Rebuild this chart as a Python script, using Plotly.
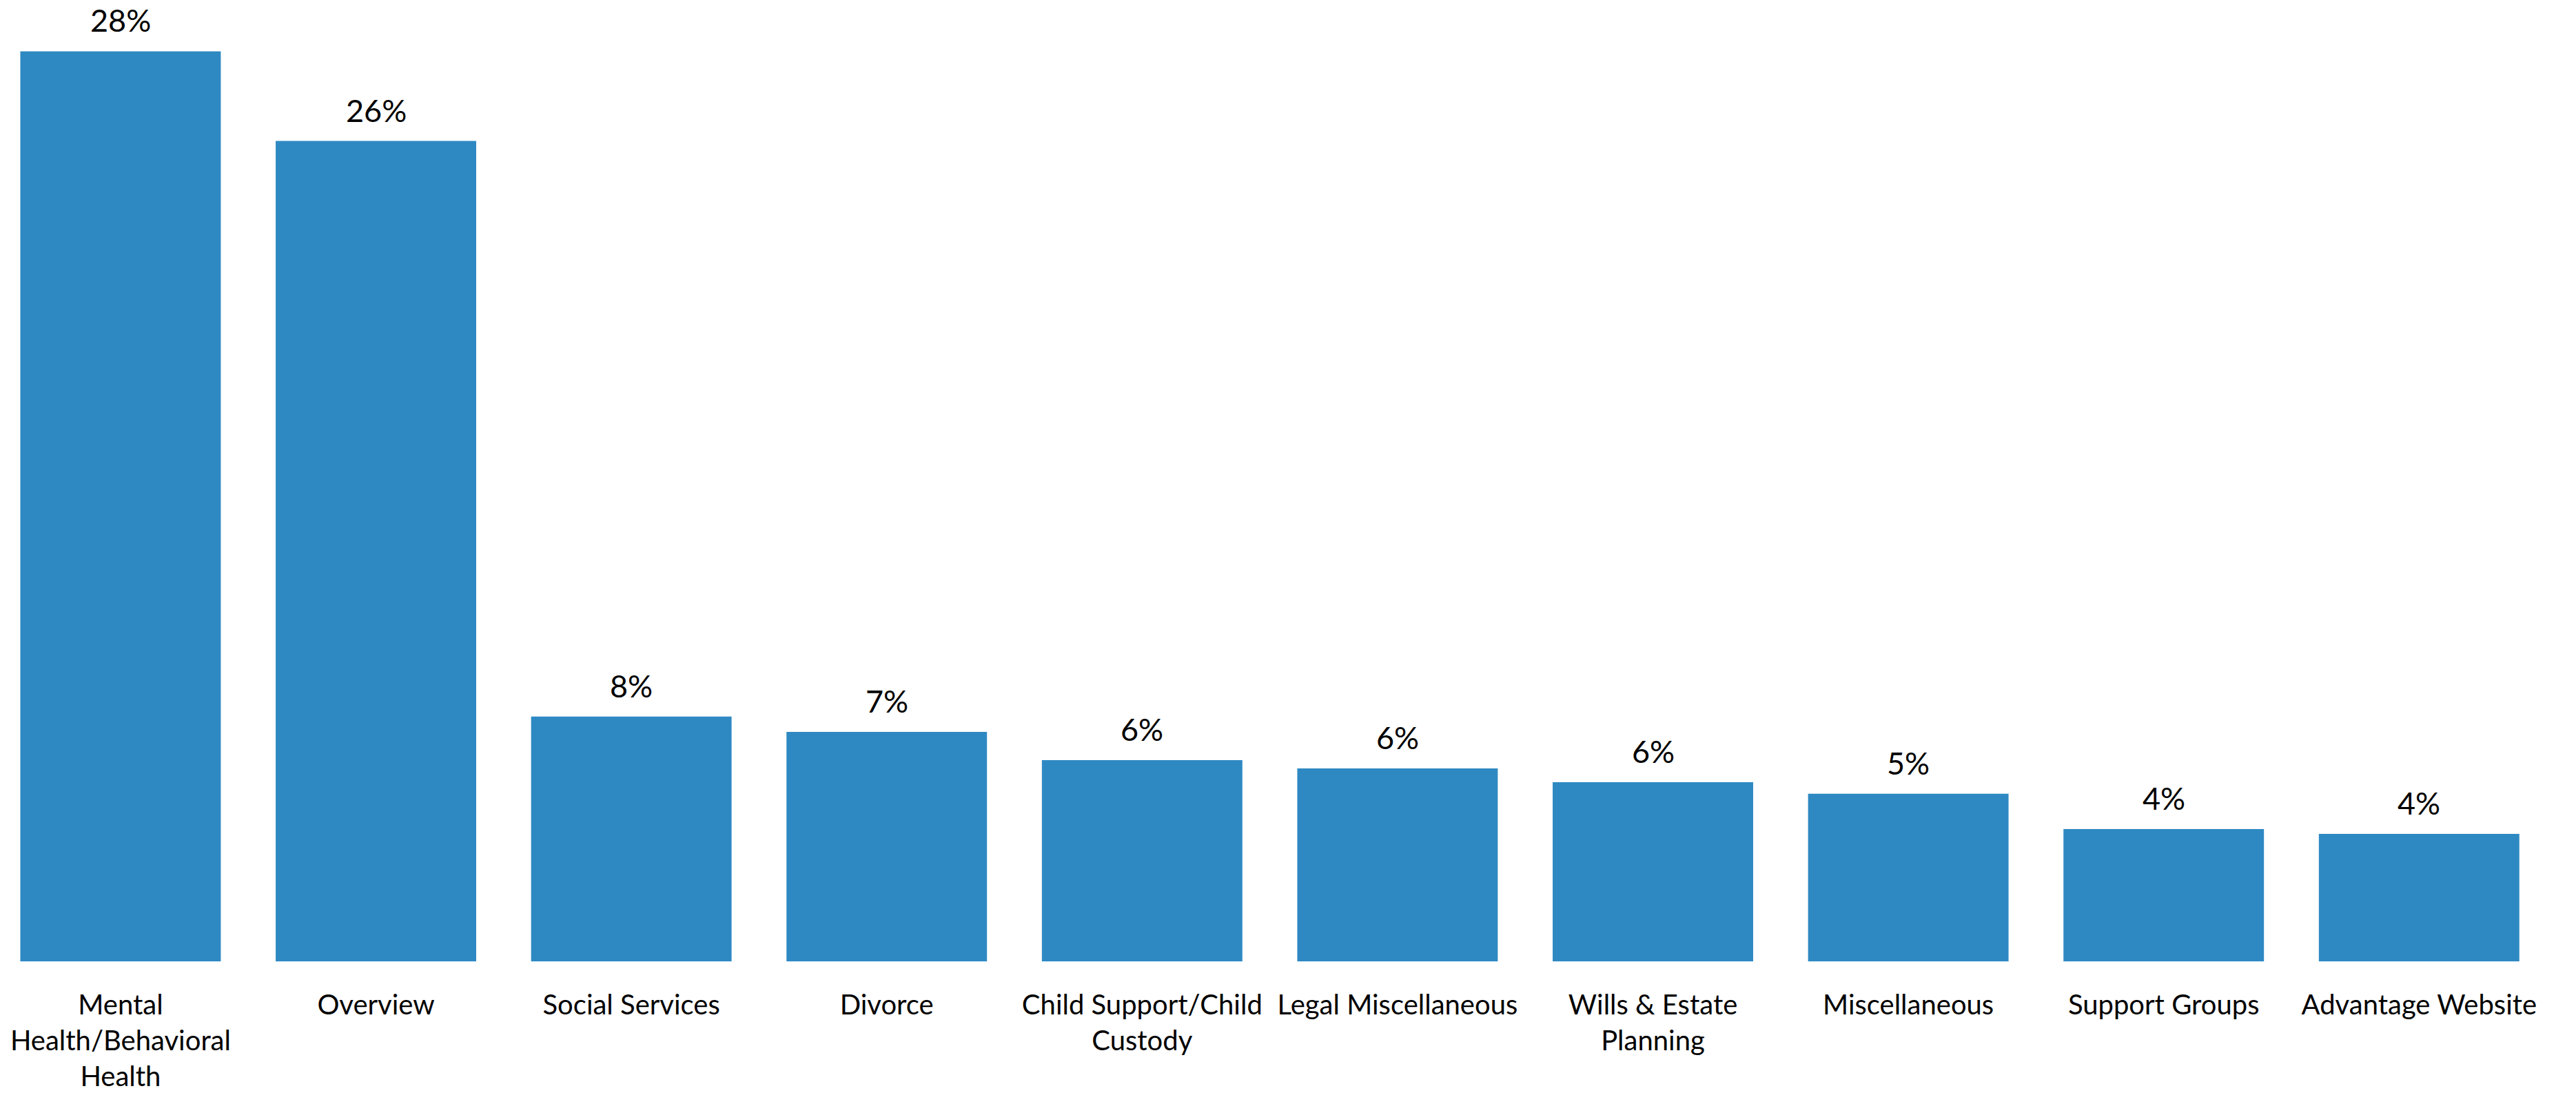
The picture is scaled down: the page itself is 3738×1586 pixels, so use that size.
import plotly.graph_objects as go

# Share of inquiries by topic
categories = [
    "Mental<br>Health/Behavioral<br>Health",
    "Overview",
    "Social Services",
    "Divorce",
    "Child Support/Child<br>Custody",
    "Legal Miscellaneous",
    "Wills & Estate<br>Planning",
    "Miscellaneous",
    "Support Groups",
    "Advantage Website",
]
shares = [0.284, 0.256, 0.0764, 0.0716, 0.0628, 0.0602, 0.0559, 0.0523, 0.0413, 0.0398]

BAR_COLOR = "#2E89C3"
FONT = "Lato"

fig = go.Figure(
    go.Bar(
        x=list(range(len(categories))),
        y=shares,
        marker=dict(color=BAR_COLOR, line=dict(width=0)),
        hoverinfo="skip",
    )
)

# value labels above each bar
for i, v in enumerate(shares):
    fig.add_annotation(
        x=i, y=v, text=f"{v:.0%}", showarrow=False,
        yanchor="bottom", yshift=16,
        font=dict(family=FONT, size=45, color="#000000"),
    )

fig.update_layout(
    width=3738, height=1586,
    margin=dict(l=0, r=0, t=0, b=191),
    paper_bgcolor="white", plot_bgcolor="white",
    bargap=0.215,
    showlegend=False,
    font=dict(family=FONT, color="#000000"),
)
fig.update_xaxes(
    tickmode="array",
    tickvals=list(range(len(categories))),
    ticktext=categories,
    range=[-0.472, -0.472 + 3738 / 370.6],
    showgrid=False, zeroline=False, showline=False, ticks="",
    tickfont=dict(family=FONT, size=40, color="#000000"),
    ticklabelstandoff=36,
)
fig.update_yaxes(
    range=[0, 0.30],
    showgrid=False, zeroline=False, showline=False,
    showticklabels=False, ticks="",
)

fig.write_html("out.html")
